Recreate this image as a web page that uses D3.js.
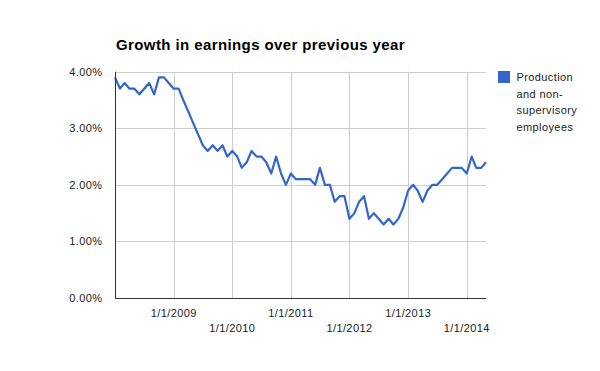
<!DOCTYPE html>
<html>
<head>
<meta charset="utf-8">
<script src="https://cdn.jsdelivr.net/npm/d3@7"></script>
<style>
  body { margin: 0; background: #fff; }
  text { font-family: Arial, "Liberation Sans", sans-serif; }
</style>
</head>
<body>
<script>
// monthly values, Jan 2008 .. May 2014
let startMonth = "2008-01";
let growth = [
  3.9, 3.7, 3.8, 3.7, 3.7, 3.6, 3.7, 3.8, 3.6, 3.9, 3.9, 3.8,
  3.7, 3.7, 3.5, 3.3, 3.1, 2.9, 2.7, 2.6, 2.7, 2.6, 2.7, 2.5,
  2.6, 2.5, 2.3, 2.4, 2.6, 2.5, 2.5, 2.4, 2.2, 2.5, 2.2, 2.0,
  2.2, 2.1, 2.1, 2.1, 2.1, 2.0, 2.3, 2.0, 2.0, 1.7, 1.8, 1.8,
  1.4, 1.5, 1.7, 1.8, 1.4, 1.5, 1.4, 1.3, 1.4, 1.3, 1.4, 1.6,
  1.9, 2.0, 1.9, 1.7, 1.9, 2.0, 2.0, 2.1, 2.2, 2.3, 2.3, 2.3,
  2.2, 2.5, 2.3, 2.3, 2.4
];
let yTicks = [0, 1, 2, 3, 4];
let xTicks = ["2009", "2010", "2011", "2012", "2013", "2014"];
let seriesName = ["Production", "and non-", "supervisory", "employees"];
let title = "Growth in earnings over previous year";

let parseMonth = d3.timeParse("%Y-%m");
let start = parseMonth(startMonth);
let data = growth.map((v, i) => ({ date: d3.timeMonth.offset(start, i), value: v }));

let svg = d3.select("body")
  .append("svg")
  .attr("width", 600)
  .attr("height", 371);

let xScale = d3.scaleTime()
  .domain(d3.extent(data, d => d.date))
  .range([115, 486]);

let yScale = d3.scaleLinear()
  .domain([0, 4])
  .range([298, 71.7]);

let crisp = v => Math.round(v) + 0.5;

// horizontal gridlines
svg.append("g")
  .selectAll("line")
  .data(yTicks.filter(d => d > 0))
  .enter()
  .append("line")
  .attr("x1", 115)
  .attr("x2", 486)
  .attr("y1", d => crisp(yScale(d)))
  .attr("y2", d => crisp(yScale(d)))
  .attr("stroke", "#cccccc");

// vertical gridlines at each year
let yearDates = xTicks.map(y => d3.timeParse("%Y")(y));
svg.append("g")
  .selectAll("line")
  .data(yearDates)
  .enter()
  .append("line")
  .attr("x1", d => crisp(xScale(d)))
  .attr("x2", d => crisp(xScale(d)))
  .attr("y1", yScale(4))
  .attr("y2", yScale(0))
  .attr("stroke", "#cccccc");

// y labels
svg.append("g")
  .selectAll("text")
  .data(yTicks)
  .enter()
  .append("text")
  .attr("x", 102.5)
  .attr("y", d => yScale(d) + 4)
  .attr("text-anchor", "end")
  .attr("font-size", 11)
  .attr("letter-spacing", 0.4)
  .attr("fill", "#222")
  .text(d => d.toFixed(2) + "%");

// x labels, staggered on two rows
let fmt = d3.timeFormat("%-m/%-d/%Y");
svg.append("g")
  .selectAll("text")
  .data(yearDates)
  .enter()
  .append("text")
  .attr("x", d => xScale(d))
  .attr("y", (d, i) => i % 2 == 0 ? 316.5 : 331.5)
  .attr("text-anchor", "middle")
  .attr("font-size", 11)
  .attr("letter-spacing", 0.4)
  .attr("fill", "#222")
  .text(d => fmt(d));

// line
let line = d3.line()
  .x(d => xScale(d.date))
  .y(d => yScale(d.value));

svg.append("path")
  .datum(data)
  .attr("d", line)
  .attr("fill", "none")
  .attr("stroke", "#3366cc")
  .attr("stroke-width", 2.2)
  .attr("stroke-linejoin", "round");

// axes lines
svg.append("line")
  .attr("x1", 115.5).attr("x2", 115.5)
  .attr("y1", yScale(4)).attr("y2", 299)
  .attr("stroke", "#333");
svg.append("line")
  .attr("x1", 115).attr("x2", 486)
  .attr("y1", 298.5).attr("y2", 298.5)
  .attr("stroke", "#333");

// title
svg.append("text")
  .attr("x", 116)
  .attr("y", 50)
  .attr("font-size", 15)
  .attr("font-weight", "bold")
  .attr("letter-spacing", 0.4)
  .attr("fill", "#000")
  .text(title);

// legend
svg.append("rect")
  .attr("x", 498)
  .attr("y", 71)
  .attr("width", 12)
  .attr("height", 12)
  .attr("fill", "#3366cc");

svg.append("g")
  .selectAll("text")
  .data(seriesName)
  .enter()
  .append("text")
  .attr("x", 516.5)
  .attr("y", (d, i) => 81 + i * 16.7)
  .attr("font-size", 11)
  .attr("letter-spacing", 0.4)
  .attr("fill", "#222")
  .text(d => d);
</script>
</body>
</html>
